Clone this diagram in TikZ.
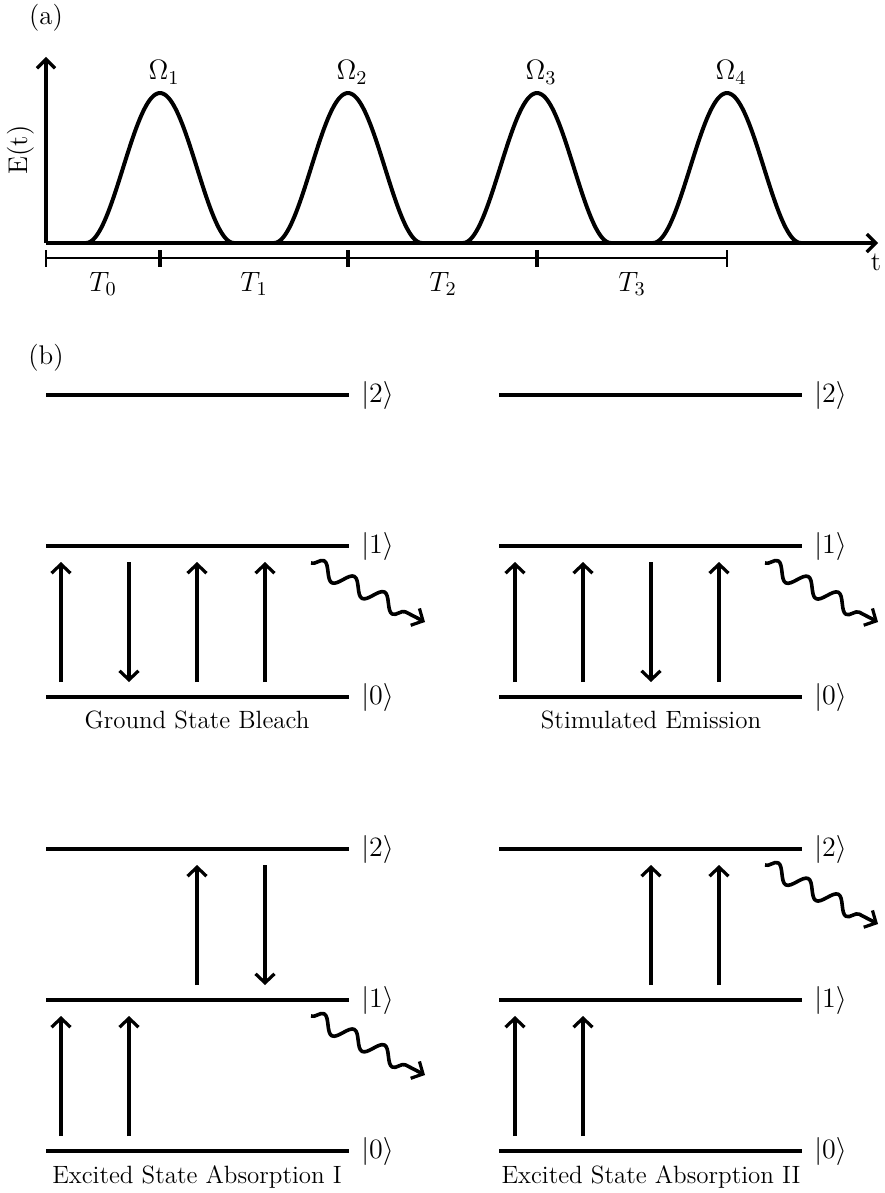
\RequirePackage{fix-cm}
\documentclass[tikz,border=0pt]{standalone}
\usetikzlibrary{arrows.meta,decorations.pathmorphing}
\begin{document}
\begin{tikzpicture}[x=0.5pt,y=-0.5pt,
  every node/.style={font=\fontsize{12.5}{15}\selectfont, inner sep=0pt},
  mathlab/.style={font=\fontsize{14}{16}\selectfont},
  level/.style={line width=2.1pt},
  axis/.style={line width=2pt,-{Straight Barb[length=4.5pt,width=9pt,line width=1.6pt]}},
  pulse/.style={line width=2pt, line join=round},
  trans/.style={line width=1.6pt,-{Straight Barb[length=4.5pt,width=9.5pt,line width=1.6pt]}},
  wave/.style={line width=1.8pt, line join=round, decorate,
    decoration={snake, amplitude=4pt, segment length=17pt, post length=4pt},
    -{Straight Barb[length=4.5pt,width=9.5pt,line width=1.6pt]}},
  ket/.style={anchor=west, mathlab},
  captext/.style={anchor=base},
  panlab/.style={font=\fontsize{13.5}{15}\selectfont},
  thinbar/.style={line width=1pt},
  thickbar/.style={line width=2pt}
]
\useasboundingbox (0,0) rectangle (884,1193);

% ---------------- panel (a) ----------------
\node[panlab] (la) at (46,18) {(a)};
\coordinate (O) at (46,243);
\coordinate (ytop) at (46,57);
\coordinate (xend) at (878,243);
\draw[axis] (O) -- (ytop);
\draw[axis] (O) -- (xend);
\node[rotate=90, panlab] (ylab) at (21,150) {E(t)};
\node[panlab] (xlab) at (876,262) {t};

\foreach \c/\i in {160/1,348/2,537/3,727/4}{
  \draw[pulse] plot[domain=-74:74, samples=80, smooth]
     ({\c+\x},{243-150*pow(cos(\x*90/74),2)});
  \node[captext, mathlab] (om\i) at (\c+4,80) {$\Omega_\i$};
}

% time bar
\coordinate (b0) at (46,258);
\coordinate (b4) at (727,258);
\draw[thinbar] (b0) -- (b4);
\draw[thinbar] (46,250) -- (46,267);
\draw[thinbar] (727,250) -- (727,267);
\foreach \c in {160,348,537}{
  \draw[thickbar] (\c,250) -- (\c,267);
}
\node[mathlab] (t0) at (103,284) {$T_0$};
\node[mathlab] (t1) at (254,284) {$T_1$};
\node[mathlab] (t2) at (443,284) {$T_2$};
\node[mathlab] (t3) at (632,284) {$T_3$};

% ---------------- panel (b) ----------------
\node[panlab] (lb) at (46,358) {(b)};

% level lines and kets
\foreach \dx/\dy/\p in {0/0/A,453/0/B,0/454/C,453/454/D}{
  \begin{scope}[shift={(\dx,\dy)}]
    \draw[level] (46,395) -- (349,395);
    \draw[level] (46,546) -- (349,546);
    \draw[level] (46,697) -- (349,697);
    \node[ket] (k2\p) at (361,395) {$|2\rangle$};
    \node[ket] (k1\p) at (361,546) {$|1\rangle$};
    \node[ket] (k0\p) at (361,697) {$|0\rangle$};
  \end{scope}
}

% Ground State Bleach
\draw[trans] (61,682) -- (61,562);
\draw[trans] (129,562) -- (129,682);
\draw[trans] (197,682) -- (197,562);
\draw[trans] (265,682) -- (265,562);
\coordinate (wAs) at (311,563);
\coordinate (wAe) at (425,622);
\draw[wave] (wAs) -- (wAe);
\node[captext] (capA) at (197,728) {Ground State Bleach};

% Stimulated Emission
\draw[trans] (515,682) -- (515,562);
\draw[trans] (583,682) -- (583,562);
\draw[trans] (651,562) -- (651,682);
\draw[trans] (719,682) -- (719,562);
\coordinate (wBs) at (765,563);
\coordinate (wBe) at (878,622);
\draw[wave] (wBs) -- (wBe);
\node[captext] (capB) at (651,728) {Stimulated Emission};

% Excited State Absorption I
\draw[trans] (61,1136) -- (61,1016);
\draw[trans] (129,1136) -- (129,1016);
\draw[trans] (197,985) -- (197,865);
\draw[trans] (265,865) -- (265,985);
\coordinate (wCs) at (311,1016);
\coordinate (wCe) at (425,1075);
\draw[wave] (wCs) -- (wCe);
\node[captext] (capC) at (197,1183) {Excited State Absorption I};

% Excited State Absorption II
\draw[trans] (515,1136) -- (515,1016);
\draw[trans] (583,1136) -- (583,1016);
\draw[trans] (651,985) -- (651,865);
\draw[trans] (719,985) -- (719,865);
\coordinate (wDs) at (765,865);
\coordinate (wDe) at (878,924);
\draw[wave] (wDs) -- (wDe);
\node[captext] (capD) at (651,1183) {Excited State Absorption II};

\end{tikzpicture}
\end{document}
